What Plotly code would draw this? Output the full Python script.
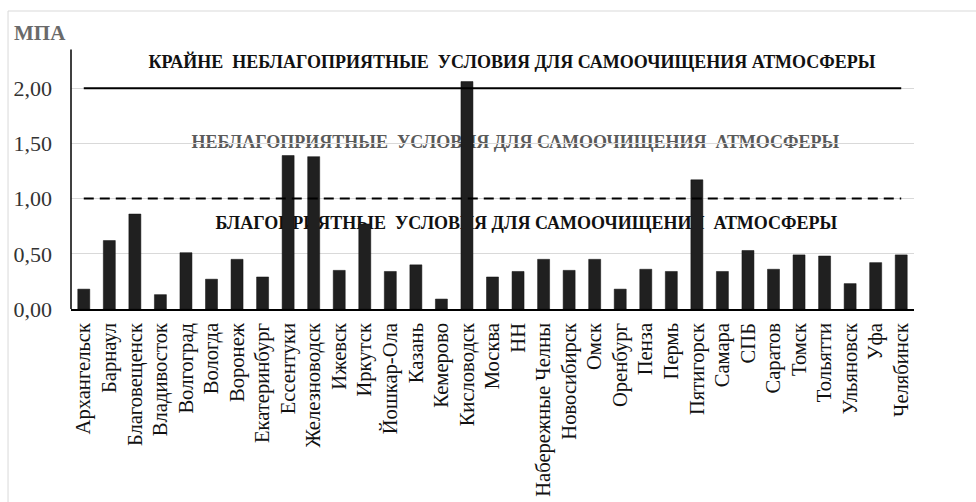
import plotly.graph_objects as go

# Index of atmospheric pollution potential (МПА) by city
cities = [
    "Архангельск", "Барнаул", "Благовещенск", "Владивосток", "Волгоград",
    "Вологда", "Воронеж", "Екатеринбург", "Ессентуки", "Железноводск",
    "Ижевск", "Иркутск", "Йошкар-Ола", "Казань", "Кемерово", "Кисловодск",
    "Москва", "НН", "Набережные Челны", "Новосибирск", "Омск", "Оренбург",
    "Пенза", "Пермь", "Пятигорск", "Самара", "СПБ", "Саратов", "Томск",
    "Тольятти", "Ульяновск", "Уфа", "Челябинск",
]
mpa = [
    0.18, 0.62, 0.86, 0.13, 0.51,
    0.27, 0.45, 0.29, 1.39, 1.38,
    0.35, 0.77, 0.34, 0.40, 0.09, 2.06,
    0.29, 0.34, 0.45, 0.35, 0.45, 0.18,
    0.36, 0.34, 1.17, 0.34, 0.53, 0.36, 0.49,
    0.48, 0.23, 0.42, 0.49,
]

# Threshold levels
extreme_level = 2.0
unfavourable_level = 1.0

tick_vals = [0, 0.5, 1.0, 1.5, 2.0, 2.5]
tick_text = ["0,00", "0,50", "1,00", "1,50", "2,00", ""]

zones = [
    ("КРАЙНЕ  НЕБЛАГОПРИЯТНЫЕ  УСЛОВИЯ ДЛЯ САМООЧИЩЕНИЯ АТМОСФЕРЫ", 2.255, 0.523, "#111111"),
    ("НЕБЛАГОПРИЯТНЫЕ  УСЛОВИЯ ДЛЯ САМООЧИЩЕНИЯ  АТМОСФЕРЫ", 1.53, 0.527, "#5a5a5a"),
    ("БЛАГОПРИЯТНЫЕ  УСЛОВИЯ ДЛЯ САМООЧИЩЕНИЯ  АТМОСФЕРЫ", 0.80, 0.540, "#111111"),
]

SERIF = "Liberation Serif"

fig = go.Figure()

fig.add_trace(go.Bar(
    x=cities, y=mpa,
    marker=dict(color="#202020", line=dict(color="#111111", width=0.5)),
    showlegend=False,
))

fig.add_trace(go.Scatter(
    x=[cities[0], cities[-1]], y=[extreme_level, extreme_level],
    mode="lines", line=dict(color="#000000", width=2),
    showlegend=False, hoverinfo="skip",
))
fig.add_trace(go.Scatter(
    x=[cities[0], cities[-1]], y=[unfavourable_level, unfavourable_level],
    mode="lines", line=dict(color="#000000", width=2, dash="10px,6px"),
    showlegend=False, hoverinfo="skip",
))

# Zone captions sit behind the bars
for text, yv, xc, color in zones:
    fig.add_shape(
        type="rect", xref="paper", yref="y",
        x0=xc - 0.01, x1=xc + 0.01, y0=yv - 0.05, y1=yv + 0.05,
        line=dict(width=0), fillcolor="rgba(0,0,0,0)", layer="between",
        label=dict(text=text, textposition="middle center",
                   font=dict(family=SERIF, size=18, color=color, weight="bold")),
    )

# Vertical axis line (stops short of the top gridline)
fig.add_shape(type="line", xref="paper", yref="y", x0=0, x1=0, y0=0, y1=2.35,
              line=dict(color="#000000", width=1.5))

# Chart-area frame
fig.add_shape(type="rect", xref="paper", yref="paper",
              x0=-0.0747, x1=1.3, y0=-1.0, y1=1.0797,
              line=dict(color="#d9d9d9", width=1), fillcolor="rgba(0,0,0,0)")

fig.add_annotation(
    text="МПА", xref="paper", yref="y", x=0, y=2.5,
    xanchor="right", yanchor="middle", xshift=-3, showarrow=False,
    font=dict(family=SERIF, size=21, color="#6a6a6a", weight="bold"),
)

fig.update_layout(
    width=976, height=502,
    margin=dict(l=71, r=62, t=33, b=193),
    paper_bgcolor="white", plot_bgcolor="white",
    bargap=0.53,
    font=dict(family=SERIF),
    xaxis=dict(
        type="category", tickangle=-90, tickmode="linear", dtick=1, tick0=0,
        automargin=False, ticklabelstandoff=4,
        tickfont=dict(family=SERIF, size=20.6, color="#111111"),
        showline=True, linecolor="#000000", linewidth=1.5,
        showgrid=False, ticks="", ticklen=0,
    ),
    yaxis=dict(
        range=[0, 2.5], tickvals=tick_vals, ticktext=tick_text,
        automargin=False,
        tickfont=dict(family=SERIF, size=22, color="#333333"),
        showgrid=True, gridcolor="#d9d9d9", gridwidth=1,
        zeroline=False, showline=False, ticks="", ticklabelstandoff=18,
    ),
)

fig.write_html("out.html")
